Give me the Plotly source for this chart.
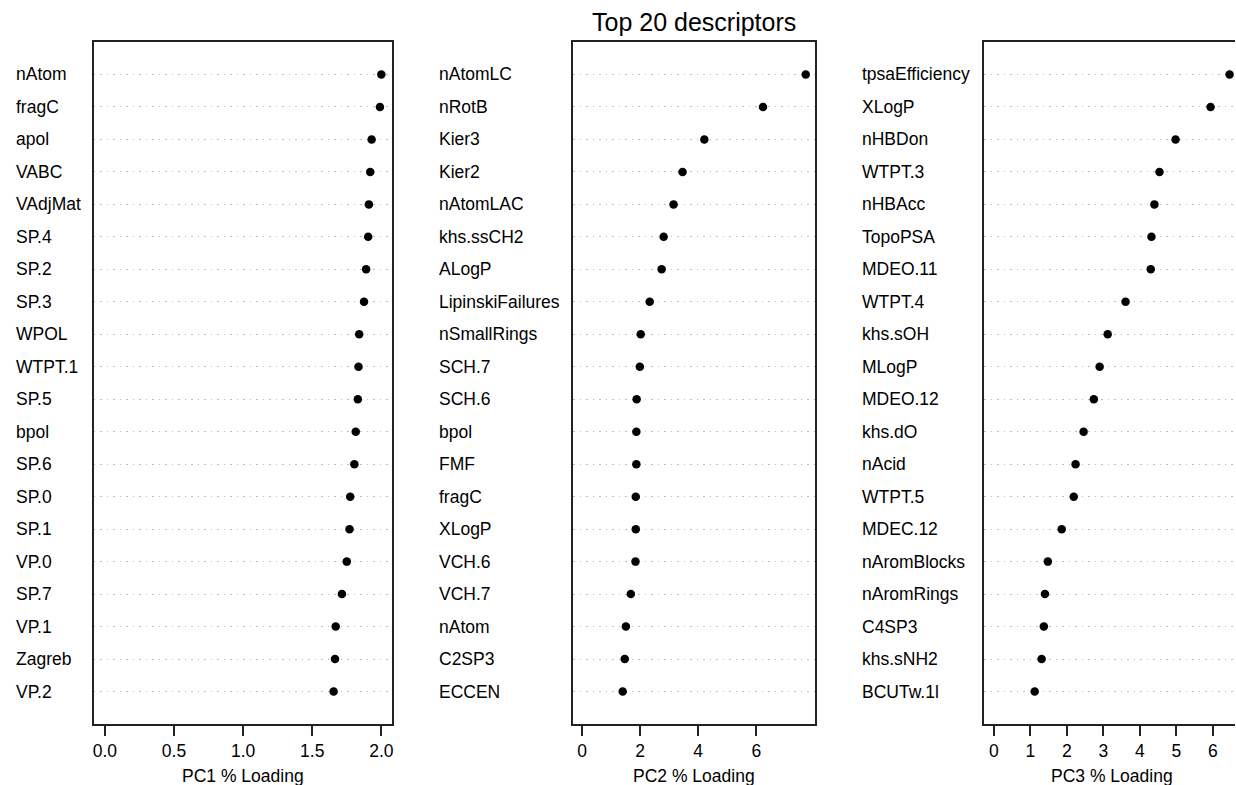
import plotly.graph_objects as go

# ---- data ----
pc1_names = ["nAtom", "fragC", "apol", "VABC", "VAdjMat", "SP.4", "SP.2", "SP.3", "WPOL", "WTPT.1",
             "SP.5", "bpol", "SP.6", "SP.0", "SP.1", "VP.0", "SP.7", "VP.1", "Zagreb", "VP.2"]
pc1_vals = [2.00, 1.99, 1.93, 1.92, 1.91, 1.905, 1.89, 1.875, 1.84, 1.835,
            1.83, 1.815, 1.805, 1.775, 1.77, 1.75, 1.715, 1.67, 1.665, 1.655]

pc2_names = ["nAtomLC", "nRotB", "Kier3", "Kier2", "nAtomLAC", "khs.ssCH2", "ALogP", "LipinskiFailures",
             "nSmallRings", "SCH.7", "SCH.6", "bpol", "FMF", "fragC", "XLogP", "VCH.6", "VCH.7",
             "nAtom", "C2SP3", "ECCEN"]
pc2_vals = [7.70, 6.23, 4.21, 3.46, 3.15, 2.81, 2.74, 2.33, 2.02, 1.99,
            1.88, 1.87, 1.87, 1.85, 1.85, 1.84, 1.68, 1.51, 1.47, 1.40]

pc3_names = ["tpsaEfficiency", "XLogP", "nHBDon", "WTPT.3", "nHBAcc", "TopoPSA", "MDEO.11", "WTPT.4",
             "khs.sOH", "MLogP", "MDEO.12", "khs.dO", "nAcid", "WTPT.5", "MDEC.12", "nAromBlocks",
             "nAromRings", "C4SP3", "khs.sNH2", "BCUTw.1l"]
pc3_vals = [6.46, 5.94, 4.98, 4.54, 4.40, 4.32, 4.30, 3.61, 3.12, 2.90,
            2.74, 2.46, 2.24, 2.19, 1.86, 1.48, 1.40, 1.37, 1.31, 1.12]

pc1_ticks = [0.0, 0.5, 1.0, 1.5, 2.0]
pc2_ticks = [0, 2, 4, 6]
pc3_ticks = [0, 1, 2, 3, 4, 5, 6]

axis_titles = ["PC1 % Loading", "PC2 % Loading", "PC3 % Loading"]
main_title = "Top 20 descriptors"

# ---- layout constants ----
W, H = 1236, 785
FONT = "Liberation Sans, Arial, Helvetica, sans-serif"
FS = 17.5
box_top, box_bot = 42, 724
panels_px = [(93, 392), (573, 815), (985, 1240)]   # plot box pixel extents (last is cut by page)
label_x_px = [13, 437, 860]
ydom = [(H - box_bot) / H, (H - box_top) / H]

panels = [(pc1_names, pc1_vals, pc1_ticks, "%.1f"),
          (pc2_names, pc2_vals, pc2_ticks, None),
          (pc3_names, pc3_vals, pc3_ticks, None)]

fig = go.Figure()
annotations = []
n = len(pc1_names)

for k, (names, vals, ticks, fmt) in enumerate(panels):
    idx = "" if k == 0 else str(k + 1)
    M = max(vals)
    lo, hi = -0.04 * M, 1.04 * M
    x0, x1 = panels_px[k]
    full_center = (x0 + x1) / 2
    if x1 > W:
        # page cuts the box: keep the same scale, clip the range at the page edge
        hi = lo + (hi - lo) * (W - x0) / (x1 - x0)
        x1 = W
    ys = [n - i for i in range(n)]
    fig.add_trace(go.Scatter(
        x=vals, y=ys, mode="markers",
        marker=dict(color="black", size=8.5),
        xaxis="x" + idx, yaxis="y" + idx, showlegend=False, hoverinfo="x+text",
        text=names, cliponaxis=False,
    ))
    xa = dict(
        domain=[x0 / W, x1 / W], range=[lo, hi], anchor="y" + idx,
        showline=True, mirror=True, linecolor="#222", linewidth=2,
        ticks="outside", ticklen=10, tickwidth=2, tickcolor="#222",
        tickvals=ticks, tickfont=dict(family=FONT, size=FS, color="black"),
        showgrid=False, zeroline=False,
    )
    if fmt:
        xa["tickformat"] = ".1f"
    ya = dict(
        domain=ydom, range=[0, n + 1], anchor="x" + idx,
        showline=True, mirror=(k < 2), linecolor="#222", linewidth=2,
        tickvals=ys, showticklabels=False, ticks="",
        showgrid=True, gridcolor="#bdbdbd", gridwidth=1.3, griddash="1.5px,5px",
        zeroline=False,
    )
    fig.layout["xaxis" + idx] = xa
    fig.layout["yaxis" + idx] = ya
    for nm, yv in zip(names, ys):
        annotations.append(dict(
            text=nm, x=label_x_px[k] / W, xref="paper", xanchor="left",
            y=yv, yref="y" + idx, yanchor="middle", showarrow=False,
            font=dict(family=FONT, size=FS, color="black"),
        ))
    annotations.append(dict(
        text=axis_titles[k], x=full_center / W,
        xref="paper", xanchor="center",
        y=(H - 776) / H, yref="paper", yanchor="middle", showarrow=False,
        font=dict(family=FONT, size=FS, color="black"),
    ))

annotations.append(dict(
    text=main_title, x=(panels_px[1][0] + panels_px[1][1]) / 2 / W, xref="paper", xanchor="center",
    y=(H - 22) / H, yref="paper", yanchor="middle", showarrow=False,
    font=dict(family=FONT, size=25, color="black"),
))

fig.update_layout(
    width=W, height=H, margin=dict(l=0, r=0, t=0, b=0),
    paper_bgcolor="white", plot_bgcolor="white",
    annotations=annotations,
)

fig.write_html("out.html", config={"displayModeBar": False},
               post_script="document.body.style.margin='0';document.body.style.overflow='hidden';")
